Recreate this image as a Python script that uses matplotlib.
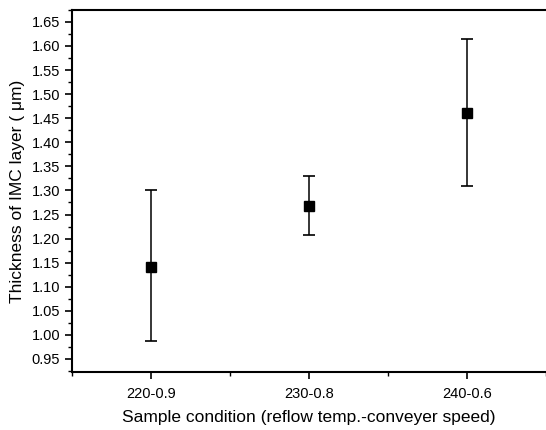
import matplotlib.pyplot as plt
import numpy as np
from matplotlib.ticker import MultipleLocator

plt.rcParams["font.family"] = ["Liberation Sans", "DejaVu Sans"]
plt.rcParams["font.size"] = 10.5

# ----- Data -----
conditions = ["220-0.9", "230-0.8", "240-0.6"]
thickness = [1.141, 1.268, 1.461]
err_low = [0.154, 0.061, 0.152]
err_high = [0.159, 0.062, 0.154]


def main():
    fig = plt.figure(figsize=(5.46, 4.30), dpi=100)
    ax = fig.add_axes([0.132, 0.135, 0.868, 0.842])

    x = np.arange(1, len(conditions) + 1)
    ax.errorbar(
        x, thickness, yerr=[err_low, err_high],
        fmt="s", color="black", markersize=6.5, ecolor="black",
        elinewidth=1.1, capsize=4, capthick=1.2,
    )

    ax.set_xlim(0.5, 3.5)
    ax.set_ylim(0.923, 1.675)
    ax.set_xticks(x)
    ax.set_xticklabels(conditions)
    ax.xaxis.set_minor_locator(MultipleLocator(0.5))
    ax.yaxis.set_major_locator(MultipleLocator(0.05))
    ax.yaxis.set_minor_locator(MultipleLocator(0.025))
    ax.yaxis.set_major_formatter(plt.FormatStrFormatter("%.2f"))

    ax.spines["right"].set_visible(False)
    for side in ["left", "bottom", "top"]:
        ax.spines[side].set_linewidth(1.5)
    ax.tick_params(axis="both", which="major", direction="out", length=5, width=1.2)
    ax.tick_params(axis="both", which="minor", direction="out", length=3, width=1.0)
    ax.tick_params(axis="x", pad=6)

    ax.set_xlabel("Sample condition (reflow temp.-conveyer speed)", fontsize=12.5, labelpad=6)
    ax.set_ylabel("Thickness of IMC layer ( \u03bcm)", fontsize=12.5, labelpad=5)

    plt.savefig("out.png", dpi=100)


if __name__ == "__main__":
    main()
